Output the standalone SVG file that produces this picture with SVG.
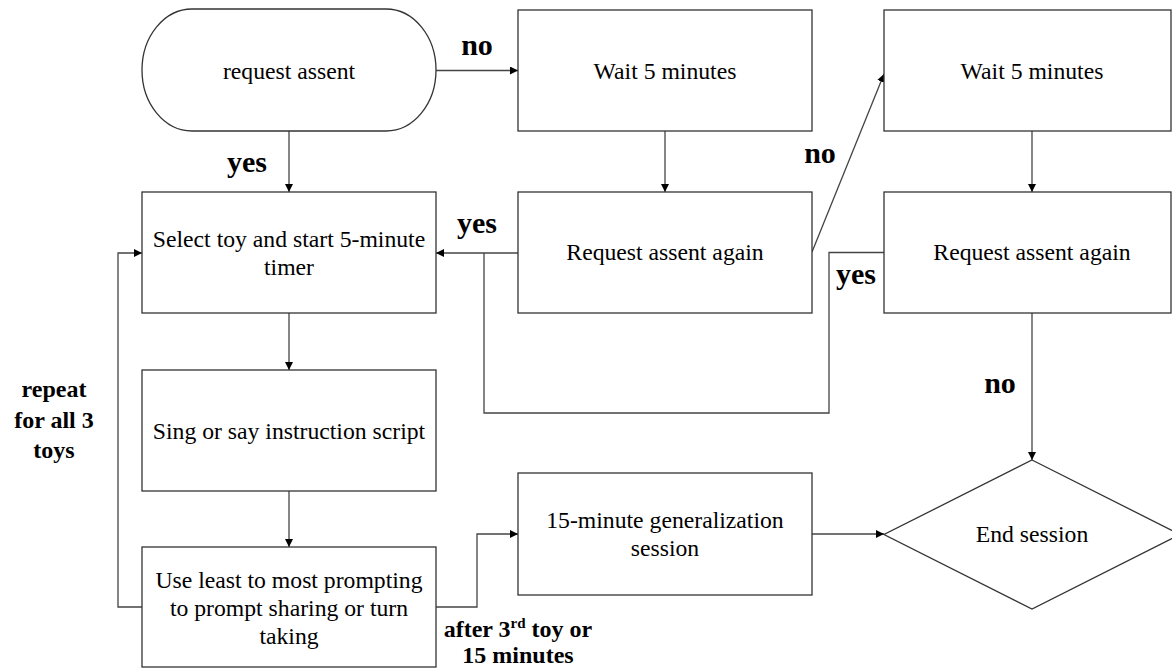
<svg xmlns="http://www.w3.org/2000/svg" width="1172" height="668" viewBox="0 0 1172 668">
<style>
.box{fill:#fff;stroke:#333;stroke-width:1.3}
.t{font-family:'Liberation Serif','DejaVu Serif',serif;font-weight:normal;font-size:23.7px;fill:#000;text-anchor:middle}
.b{font-family:'Liberation Serif','DejaVu Serif',serif;font-weight:bold;font-size:30px;fill:#000;text-anchor:middle}
.s{font-family:'Liberation Serif','DejaVu Serif',serif;font-weight:bold;font-size:24px;fill:#000;text-anchor:middle}
.c{fill:none;stroke:#444;stroke-width:1.3}
</style>
<defs>
<marker id="ah" viewBox="0 0 10 10" refX="10" refY="5" markerWidth="8" markerHeight="8" markerUnits="userSpaceOnUse" orient="auto">
<path d="M0,0 L10,5 L0,10 z" fill="#000"/>
</marker>
</defs>
<rect width="1172" height="668" fill="#fff"/>
<g id="connectors">
<path class="c" d="M289,131 V192" marker-end="url(#ah)"/>
<path class="c" d="M436,70.5 H518" marker-end="url(#ah)"/>
<path class="c" d="M665,131 V192" marker-end="url(#ah)"/>
<path class="c" d="M518,253 H436" marker-end="url(#ah)"/>
<path class="c" d="M812,252 L884,74" marker-end="url(#ah)"/>
<path class="c" d="M1032,131 V192" marker-end="url(#ah)"/>
<path class="c" d="M884,252.5 H829 V413 H484 V253"/>
<path class="c" d="M1032,313 V460" marker-end="url(#ah)"/>
<path class="c" d="M289,313 V370" marker-end="url(#ah)"/>
<path class="c" d="M289,491 V547" marker-end="url(#ah)"/>
<path class="c" d="M142,607 H118 V253 H142" marker-end="url(#ah)"/>
<path class="c" d="M436,607 H477 V534 H518" marker-end="url(#ah)"/>
<path class="c" d="M812,534 H884" marker-end="url(#ah)"/>
</g>
<g id="labels">
<text class="b" x="477" y="55">no</text>
<text class="b" x="247" y="172">yes</text>
<text class="b" x="477" y="233">yes</text>
<text class="b" x="820" y="163">no</text>
<text class="b" x="856" y="284">yes</text>
<text class="b" x="1000" y="393">no</text>
<text class="s" x="54" y="397">repeat</text>
<text class="s" x="54" y="428">for all 3</text>
<text class="s" x="54" y="458">toys</text>
<text class="s" x="518" y="637">after 3<tspan font-size="15" dy="-9">rd</tspan><tspan dy="9"> toy or</tspan></text>
<text class="s" x="518" y="663">15 minutes</text>
</g>
<g id="request-assent">
<rect class="box" x="142" y="9" width="294" height="122" rx="50" ry="61"/>
<text class="t" x="289" y="79">request assent</text>
</g>
<g id="wait1">
<rect class="box" x="518" y="10" width="294" height="121"/>
<text class="t" x="665" y="79">Wait 5 minutes</text>
</g>
<g id="wait2">
<rect class="box" x="884" y="10" width="287" height="121"/>
<text class="t" x="1032" y="79">Wait 5 minutes</text>
</g>
<g id="select-toy">
<rect class="box" x="142" y="192" width="294" height="121"/>
<text class="t" x="289" y="247">Select toy and start 5-minute</text>
<text class="t" x="289" y="275">timer</text>
</g>
<g id="request-again1">
<rect class="box" x="518" y="192" width="294" height="121"/>
<text class="t" x="665" y="260">Request assent again</text>
</g>
<g id="request-again2">
<rect class="box" x="884" y="192" width="287" height="121"/>
<text class="t" x="1032" y="260">Request assent again</text>
</g>
<g id="sing">
<rect class="box" x="142" y="370" width="294" height="121"/>
<text class="t" x="289" y="439">Sing or say instruction script</text>
</g>
<g id="prompting">
<rect class="box" x="142" y="547" width="294" height="120"/>
<text class="t" x="289" y="588">Use least to most prompting</text>
<text class="t" x="289" y="616">to prompt sharing or turn</text>
<text class="t" x="289" y="644">taking</text>
</g>
<g id="generalization">
<rect class="box" x="518" y="473" width="294" height="122"/>
<text class="t" x="665" y="528">15-minute generalization</text>
<text class="t" x="665" y="556">session</text>
</g>
<g id="end-session">
<path class="box" d="M1032,460 L1180,534.5 L1032,609 L884,534.5 Z"/>
<text class="t" x="1032" y="542">End session</text>
</g>
</svg>
